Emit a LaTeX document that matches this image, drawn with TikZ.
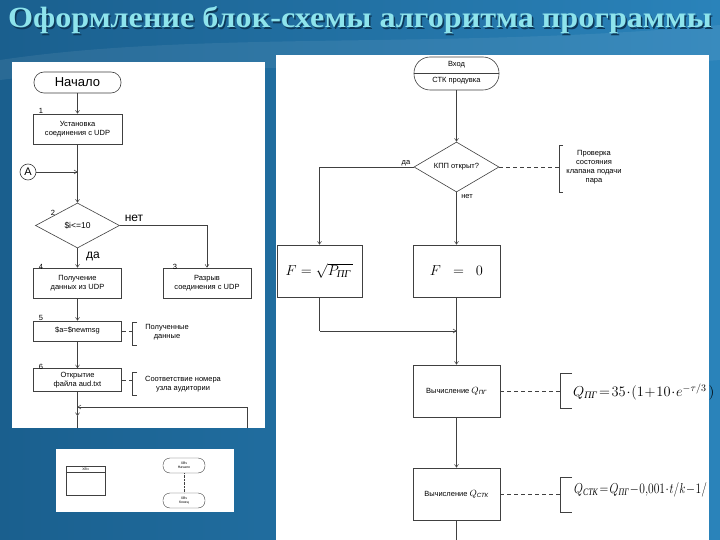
\documentclass[tikz,border=0pt]{standalone}
\usepackage{amsmath}
\usepackage{graphicx}
\usepackage{fontspec}
\setmainfont{Liberation Serif}
\setsansfont{Liberation Sans}
\usetikzlibrary{shapes.geometric,arrows.meta,calc}
\definecolor{bgL}{HTML}{1A5F8E}
\definecolor{bgR}{HTML}{2A83BA}
\definecolor{titlec}{HTML}{8EE4EC}
\definecolor{titles}{HTML}{0E3A5A}
\definecolor{lnc}{HTML}{404040}
\newcommand{\titletext}{\resizebox{704pt}{21pt}{\fontsize{26}{26}\selectfont\bfseries Оформление блок-схемы алгоритма программы}}
\begin{document}
\begin{tikzpicture}[x=1pt,y=-1pt,
  ln/.style={draw=lnc, line width=0.5pt},
  arr/.style={ln, -{Straight Barb[length=3pt,width=4pt]}},
  dsh/.style={ln, dashed, dash pattern=on 4pt off 3pt},
  blk/.style={draw=lnc, line width=0.6pt, rectangle, inner sep=1pt, align=center,
    font=\sffamily\fontsize{7.5}{9}\selectfont},
  termbox/.style={draw=lnc, line width=0.6pt, rectangle, align=center, inner sep=1pt},
  num/.style={font=\sffamily\fontsize{7.5}{8}\selectfont, inner sep=0pt},
  txt/.style={font=\sffamily\fontsize{7.5}{9}\selectfont, align=center, inner sep=0pt},
  big/.style={font=\sffamily\fontsize{12}{13}\selectfont, inner sep=0pt},
  tiny/.style={font=\sffamily\fontsize{3.5}{4}\selectfont, align=center, inner sep=0pt},
  dia/.style={draw=lnc, line width=0.6pt, diamond, inner sep=0pt, aspect=1.8,
    font=\sffamily\fontsize{7.5}{9}\selectfont}
]
\useasboundingbox (0,0) rectangle (720,540);
% background
\shade[left color=bgL, right color=bgR] (0,0) rectangle (720,540);
\fill[white, opacity=0.07] (0,60) .. controls (200,30) and (450,50) .. (720,25) -- (720,60) .. controls (450,80) and (200,55) .. (0,80) -- cycle;
% title
\node[anchor=base, inner sep=0pt, text=titles] (titlesh) at (361.5,29.5) {\titletext};
\node[anchor=base, inner sep=0pt, text=titlec] (title) at (360,28) {\titletext};

% ================= left panel =================
\fill[white] (12,62) rectangle (265,428);
\node[termbox, rounded corners=10pt, minimum width=87pt, minimum height=21pt,
  font=\sffamily\fontsize{13}{14}\selectfont] (start) at (77.5,82.5) {Начало};
\node[blk, minimum width=89pt, minimum height=30pt] (b1) at (77.5,129) {Установка\\соединения с UDP};
\node[num] (n1) at (41,111) {1};
\node[draw=lnc, line width=0.6pt, circle, minimum size=16pt, inner sep=0pt,
  font=\sffamily\fontsize{11}{12}\selectfont] (A) at (28,172) {A};
\coordinate (j1) at (77.5,172);
\node[dia, minimum width=84pt, minimum height=45pt, font=\sffamily\fontsize{8.5}{9}\selectfont] (d2) at (77.5,225.5) {\$i<=10};
\node[num] (n2) at (53,213) {2};
\node[big] (no1) at (134,218) {нет};
\node[big] (yes1) at (93,256) {да};
\node[blk, minimum width=88pt, minimum height=30pt] (b3) at (207,283) {Разрыв\\соединения с UDP};
\node[num] (n3) at (175,267) {3};
\node[blk, minimum width=88pt, minimum height=30pt] (b4) at (77.5,283) {Получение\\данных из UDP};
\node[num] (n4) at (41,267) {4};
\node[blk, minimum width=88pt, minimum height=20pt] (b5) at (77.5,331) {\$a=\$newmsg};
\node[num] (n5) at (41,318) {5};
\node[blk, minimum width=88pt, minimum height=23pt] (b6) at (77.5,380) {Открытие\\файла aud.txt};
\node[num] (n6) at (41,367) {6};
% annotations
\draw[ln] (137,322) -- (132,322) -- (132,345) -- (137,345);
\coordinate (br5) at (132,331);
\node[txt] (a5) at (167,332) {Полученные\\данные};
\draw[ln] (137,372) -- (132,372) -- (132,395) -- (137,395);
\coordinate (br6) at (132,380);
\node[txt] (a6) at (183,384) {Соответствие номера\\узла аудитории};
% connectors
\draw[arr] (start) -- (b1);
\draw[ln] (b1) -- (j1);
\draw[arr] (A) -- (j1);
\draw[arr] (j1) -- (d2.north);
\draw[arr] (d2.east) -| (b3.north);
\draw[arr] (d2.south) -- (b4.north);
\draw[arr] (b4) -- (b5);
\draw[arr] (b5) -- (b6);
\draw[dsh] (b5.east) -- (br5);
\draw[dsh] (b6.east) -- (br6);
\coordinate (j2) at (77.5,407);
\coordinate (j3) at (77.5,416);
\coordinate (j4) at (77.5,428);
\coordinate (lp) at (247,428);
\draw[ln] (b6.south) -- (j2);
\draw[arr] (lp) |- (j2);
\draw[arr] (j2) -- (j3);
\draw[ln] (j3) -- (j4);

% ================= small panel =================
\fill[white] (56,449) rectangle (234,512);
\node[draw=lnc, line width=0.4pt, rectangle, minimum width=39pt, minimum height=29pt, inner sep=0pt] (sr) at (85.5,480.5) {};
\draw[ln, line width=0.4pt] ($(sr.north west)+(0,6)$) -- ($(sr.north east)+(0,6)$);
\node[tiny] (srt) at (85.5,469) {ХВч};
\node[termbox, line width=0.4pt, rounded corners=7pt, minimum width=42pt, minimum height=15pt, tiny] (st1) at (184,465.5) {ХВч\\Начало};
\node[termbox, line width=0.4pt, rounded corners=7pt, minimum width=42pt, minimum height=15pt, tiny] (st2) at (184,500.5) {ХВч\\Конец};
\draw[ln, line width=0.4pt, densely dotted] (st1) -- (st2);

% ================= right panel =================
\fill[white] (276,55) rectangle (709,540);
\node[termbox, rounded corners=16pt, minimum width=85pt, minimum height=33pt, inner sep=0pt] (t) at (456.5,73.5) {};
\draw[ln] (t.west) -- (t.east);
\node[txt] (t1) at (456.5,65) {Вход};
\node[txt] (t2) at (456.5,81) {СТК продувка};
\node[dia, minimum width=85pt, minimum height=50pt] (d) at (456.5,167) {КПП открыт?};
\node[txt] (yes2) at (406,163) {да};
\node[txt] (no2) at (467,197) {нет};
\draw[ln] (563,145) -- (559,145) -- (559,192) -- (563,192);
\coordinate (brd) at (559,167);
\node[txt] (ad) at (594,167) {Проверка\\состояния\\клапана подачи\\пара};
\node[blk, minimum width=85pt, minimum height=52pt, font=\fontsize{15}{16}\selectfont] (bl) at (319.5,271)
  {$F=\sqrt{P_{\textit{ПГ}}\,}$};
\node[blk, minimum width=87pt, minimum height=52pt, font=\fontsize{15}{16}\selectfont] (br) at (456.5,271)
  {$F\;\;=\;\;0$};
\coordinate (m1) at (319.5,331);
\coordinate (m2) at (456.5,331);
\node[blk, minimum width=87pt, minimum height=52pt, inner sep=0pt] (bq) at (456.5,391)
  {Вычисление {\fontsize{9}{10}\selectfont$Q_{\textit{ПГ}}$}};
\node[blk, minimum width=87pt, minimum height=52pt, inner sep=0pt] (bs) at (456.5,494)
  {Вычисление {\fontsize{9}{10}\selectfont$Q_{\textit{СТК}}$}};
\draw[ln] (572,373) -- (560,373) -- (560,408) -- (572,408);
\coordinate (brq) at (560,391);
\draw[ln] (572,477) -- (560,477) -- (560,512) -- (572,512);
\coordinate (brs) at (560,494);
\node[anchor=west, inner sep=0pt, font=\fontsize{14}{16}\selectfont] (fq) at (573,392)
  {$Q_{\textit{ПГ}}\!=\!35\!\cdot\!(1\!+\!10\!\cdot\! e^{-\tau/3}\,)$};
\node[anchor=west, inner sep=0pt, font=\fontsize{14}{16}\selectfont] (fs) at (574,490)
  {\scalebox{0.8}[1]{$Q_{\textit{СТК}}\!=\!Q_{\textit{ПГ}}\!-\!0{,}001\!\cdot\! t/k\!-\!1/$}};
\coordinate (bend) at (456.5,540);
% connectors
\draw[arr] (t) -- (d.north);
\draw[arr] (d.west) -| (bl.north);
\draw[arr] (d.south) -- (br.north);
\draw[dsh] (d.east) -- (brd);
\draw[ln] (bl.south) -- (m1);
\draw[arr] (m1) -- (m2);
\draw[arr] (br.south) -- (bq.north);
\draw[dsh] (bq.east) -- (brq);
\draw[arr] (bq.south) -- (bs.north);
\draw[dsh] (bs.east) -- (brs);
\draw[ln] (bs.south) -- (bend);
\end{tikzpicture}
\end{document}
